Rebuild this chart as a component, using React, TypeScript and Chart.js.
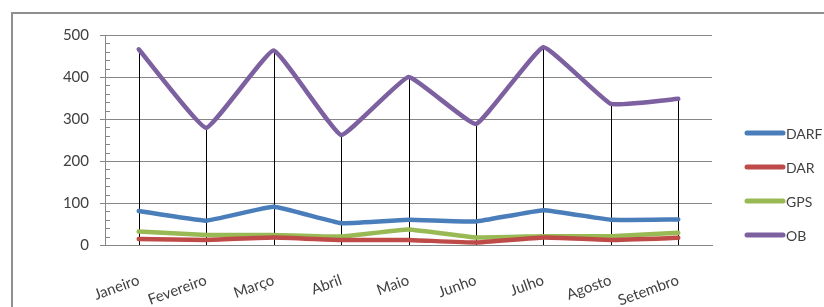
import React, { useEffect, useRef } from "react";
import { Chart, registerables } from "chart.js";

Chart.register(...registerables);

const categories = ["Janeiro", "Fevereiro", "Março", "Abril", "Maio", "Junho", "Julho", "Agosto", "Setembro"];
const darf = [81, 58, 91, 52, 60, 56, 83, 60, 61];
const dar = [14, 12, 18, 12, 12, 6, 18, 12, 17];
const gps = [32, 24, 24, 20, 37, 18, 21, 21, 29];
const ob = [466, 279, 463, 262, 400, 288, 471, 336, 348];
const seriesNames = ["DARF", "DAR", "GPS", "OB"];
const seriesColors = ["#4a7ebb", "#be4b48", "#98b954", "#7d60a0"];
const yMin = 0;
const yMax = 500;
const yStep = 100;
const yMinorStep = 20;

const FONT = "Lato, 'Open Sans', sans-serif";

const dropLines = {
  id: "dropLines",
  beforeDatasetsDraw(chart: any) {
    const { ctx, scales } = chart;
    const x = scales.x;
    const y = scales.y;
    ctx.save();
    ctx.strokeStyle = "#000000";
    ctx.lineWidth = 1;
    categories.forEach((_, i) => {
      let mx = -Infinity;
      chart.data.datasets.forEach((ds: any) => {
        mx = Math.max(mx, ds.data[i]);
      });
      const px = Math.round(x.getPixelForValue(i)) + 0.5;
      ctx.beginPath();
      ctx.moveTo(px, y.getPixelForValue(mx));
      ctx.lineTo(px, y.getPixelForValue(yMin));
      ctx.stroke();
    });
    // minor ticks on the value axis
    ctx.strokeStyle = "#868686";
    const left = chart.chartArea.left;
    for (let v = yMin; v <= yMax; v += yMinorStep) {
      if (v % yStep === 0) continue;
      const py = Math.round(y.getPixelForValue(v)) + 0.5;
      ctx.beginPath();
      ctx.moveTo(left, py);
      ctx.lineTo(left + 5, py);
      ctx.stroke();
    }
    ctx.restore();
  },
};

const sideLegend = {
  id: "sideLegend",
  afterDraw(chart: any) {
    const { ctx } = chart;
    ctx.save();
    ctx.font = `14px ${FONT}`;
    ctx.textBaseline = "middle";
    ctx.textAlign = "left";
    chart.data.datasets.forEach((ds: any, i: number) => {
      const cy = 133 + i * 34;
      ctx.strokeStyle = ds.borderColor;
      ctx.lineWidth = 5;
      ctx.lineCap = "round";
      ctx.beginPath();
      ctx.moveTo(747, cy);
      ctx.lineTo(783, cy);
      ctx.stroke();
      ctx.fillStyle = "#404040";
      ctx.fillText(ds.label, 786, cy + 1);
    });
    ctx.restore();
  },
};

export default function App() {
  const ref = useRef<HTMLCanvasElement>(null);
  useEffect(() => {
    if (!ref.current) return;
    const seriesData = [darf, dar, gps, ob];
    const chart = new Chart(ref.current, {
      type: "line",
      data: {
        labels: categories,
        datasets: seriesData.map((d, i) => ({
          label: seriesNames[i],
          data: d,
          borderColor: seriesColors[i],
          backgroundColor: seriesColors[i],
          borderWidth: 4.5,
          pointRadius: 0,
          tension: 0.1,
          borderJoinStyle: "round" as const,
          borderCapStyle: "round" as const,
        })),
      },
      options: {
        responsive: false,
        animation: false,
        devicePixelRatio: 1,
        layout: { padding: { left: 0, top: 35, right: 112, bottom: 0 } },
        plugins: {
          legend: { display: false },
          tooltip: { enabled: false },
        },
        scales: {
          x: {
            offset: true,
            grid: { display: false },
            border: { display: true, color: "#868686", width: 1 },
            ticks: {
              minRotation: 20,
              maxRotation: 20,
              padding: 18,
              color: "#404040",
              font: { family: FONT, size: 15 },
            },
            afterFit(scale: any) {
              scale.height = 62;
            },
          },
          y: {
            min: yMin,
            max: yMax,
            grid: { color: "#868686", lineWidth: 1, tickLength: 5 },
            border: { display: true, color: "#868686", width: 1 },
            ticks: {
              stepSize: yStep,
              padding: 11,
              color: "#404040",
              font: { family: FONT, size: 15 },
            },
            afterFit(scale: any) {
              scale.width = 105;
            },
          },
        },
      },
      plugins: [dropLines, sideLegend],
    });
    return () => chart.destroy();
  }, []);

  return (
    <div
      style={{
        position: "fixed",
        left: 0,
        top: 0,
        width: 824,
        height: 307,
        overflow: "hidden",
        background: "#ffffff",
      }}
    >
      <div
        style={{
          position: "absolute",
          left: 11,
          top: 12,
          width: 900,
          height: 400,
          borderLeft: "2px solid #8f8f8f",
          borderTop: "2px solid #8f8f8f",
        }}
      />
      <canvas
        ref={ref}
        width={824}
        height={307}
        style={{ position: "absolute", left: 0, top: 0 }}
      />
    </div>
  );
}
